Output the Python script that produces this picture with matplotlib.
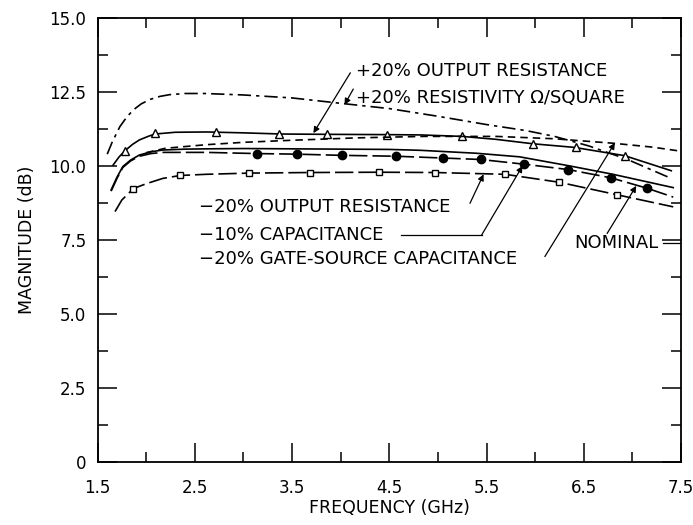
import numpy as np
import matplotlib
matplotlib.use("Agg")
import matplotlib.pyplot as plt

# curves (frequency in GHz, magnitude in dB)
resist_f = [1.60, 1.65, 1.73, 1.80, 1.87, 1.95, 2.04, 2.14, 2.24, 2.40, 2.60, 3.00, 3.50,
            4.05, 4.50, 5.00, 5.50, 5.90, 6.20, 6.55, 6.95, 7.40]
resist_m = [10.40, 10.80, 11.33, 11.65, 11.90, 12.10, 12.25, 12.35, 12.41, 12.45, 12.45, 12.40, 12.30,
            12.10, 11.94, 11.68, 11.40, 11.20, 11.00, 10.68, 10.22, 9.58]

rout_up_f = [1.66, 1.72, 1.78, 1.86, 1.93, 2.02, 2.09, 2.30, 2.62, 3.00, 3.40, 3.86, 4.48,
             4.82, 5.25, 5.60, 5.98, 6.40, 6.92, 7.40]
rout_up_m = [10.03, 10.30, 10.51, 10.73, 10.88, 11.00, 11.08, 11.14, 11.15, 11.12, 11.08, 11.07, 11.06,
             11.05, 11.00, 10.90, 10.75, 10.63, 10.35, 9.84]
tri_f = [1.78, 2.09, 2.72, 3.37, 3.86, 4.48, 5.25, 5.98, 6.42, 6.92]
tri_m = [10.51, 11.10, 11.15, 11.08, 11.07, 11.06, 11.01, 10.75, 10.64, 10.35]

cgs_f = [2.00, 2.20, 2.62, 3.00, 3.50, 4.16, 4.85, 5.60, 6.20, 6.80, 7.20, 7.50]
cgs_m = [10.45, 10.60, 10.72, 10.80, 10.87, 10.95, 11.00, 11.00, 10.92, 10.77, 10.64, 10.50]

nom_f = [1.64, 1.70, 1.76, 1.84, 1.93, 2.05, 2.17, 2.40, 2.62, 3.00, 3.50, 4.00, 4.50,
         4.82, 5.40, 5.84, 6.36, 6.80, 7.42]
nom_m = [9.19, 9.62, 9.98, 10.20, 10.37, 10.48, 10.54, 10.57, 10.58, 10.59, 10.58, 10.57, 10.56,
         10.53, 10.43, 10.31, 10.00, 9.72, 9.27]

cap_f = [1.64, 1.70, 1.76, 1.84, 1.93, 2.05, 2.17, 2.62, 3.14, 3.55, 4.01, 4.57, 5.05,
         5.44, 5.89, 6.34, 6.78, 7.15, 7.42]
cap_m = [9.15, 9.58, 9.95, 10.17, 10.33, 10.42, 10.46, 10.46, 10.42, 10.40, 10.36, 10.33, 10.27,
         10.22, 10.06, 9.88, 9.60, 9.25, 8.95]
dot_f = [3.14, 3.55, 4.01, 4.57, 5.05, 5.44, 5.89, 6.34, 6.78, 7.15]
dot_m = [10.42, 10.40, 10.36, 10.33, 10.27, 10.22, 10.06, 9.88, 9.60, 9.25]

rout_dn_f = [1.68, 1.75, 1.87, 2.00, 2.17, 2.35, 2.62, 3.06, 3.68, 4.39, 4.97, 5.69, 6.25, 6.84, 7.42]
rout_dn_m = [8.46, 8.85, 9.24, 9.40, 9.58, 9.68, 9.72, 9.76, 9.78, 9.79, 9.78, 9.72, 9.45, 9.03, 8.62]
sq_f = [1.87, 2.35, 3.06, 3.68, 4.39, 4.97, 5.69, 6.25, 6.84]
sq_m = [9.24, 9.68, 9.76, 9.78, 9.79, 9.78, 9.72, 9.45, 9.03]

xticks = [1.5, 2.5, 3.5, 4.5, 5.5, 6.5, 7.5]
xminor = [2.0, 3.0, 4.0, 5.0, 6.0, 7.0]
yticks = [0, 2.5, 5.0, 7.5, 10.0, 12.5, 15.0]
ylabels = ["0", "2.5", "5.0", "7.5", "10.0", "12.5", "15.0"]
yminor = [1.25, 3.75, 6.25, 8.75, 11.25, 13.75]

plt.rcParams['font.family'] = ['DejaVu Sans']

fig = plt.figure(figsize=(6.93, 5.25), dpi=100)
ax = fig.add_axes([0.1407, 0.12, 0.842, 0.8457])

lw = 1.2
ax.plot(resist_f, resist_m, color='black', lw=lw, dashes=(8, 3, 2, 3))
ax.plot(rout_up_f, rout_up_m, color='black', lw=lw)
ax.plot(tri_f, tri_m, ls='none', marker='^', ms=6, mfc='white', mec='black', mew=1)
ax.plot(cgs_f, cgs_m, color='black', lw=lw, dashes=(4.5, 3))
ax.plot(nom_f, nom_m, color='black', lw=lw)
ax.plot(cap_f, cap_m, color='black', lw=lw, dashes=(11, 3))
ax.plot(dot_f, dot_m, ls='none', marker='o', ms=6, mfc='black', mec='black')
ax.plot(rout_dn_f, rout_dn_m, color='black', lw=lw, dashes=(11, 3))
ax.plot(sq_f, sq_m, ls='none', marker='s', ms=5, mfc='white', mec='black', mew=1)

# labels and pointer arrows
fs = 13
arrow = dict(arrowstyle='-|>', color='black', lw=0.9, mutation_scale=9, shrinkA=0, shrinkB=0)
ax.text(4.16, 13.2, "+20% OUTPUT RESISTANCE", fontsize=fs, va='center', ha='left')
ax.annotate("", xy=(3.72, 11.11), xytext=(4.10, 13.15), arrowprops=arrow)
ax.text(4.16, 12.3, "+20% RESISTIVITY Ω/SQUARE", fontsize=fs, va='center', ha='left')
ax.annotate("", xy=(4.04, 12.07), xytext=(4.13, 12.6), arrowprops=arrow)

ax.text(2.54, 8.6, "−20% OUTPUT RESISTANCE", fontsize=fs, va='center', ha='left')
ax.annotate("", xy=(5.47, 9.72), xytext=(5.33, 8.74), arrowprops=arrow)
ax.text(2.54, 7.67, "−10% CAPACITANCE", fontsize=fs, va='center', ha='left')
ax.plot([4.62, 5.45], [7.67, 7.67], color='black', lw=0.9)
ax.annotate("", xy=(5.87, 10.0), xytext=(5.45, 7.67), arrowprops=arrow)
ax.text(2.54, 6.85, "−20% GATE-SOURCE CAPACITANCE", fontsize=fs, va='center', ha='left')
ax.annotate("", xy=(6.82, 10.78), xytext=(6.10, 6.94), arrowprops=arrow)
ax.text(6.40, 7.4, "NOMINAL", fontsize=fs, va='center', ha='left')
ax.plot([7.31, 7.5], [7.4, 7.4], color='black', lw=0.9)
ax.annotate("", xy=(7.04, 9.33), xytext=(6.74, 7.72), arrowprops=arrow)

ax.set_xlim(1.5, 7.5)
ax.set_ylim(0, 15)
ax.set_xticks(xticks)
ax.set_xticklabels([str(x) for x in xticks])
ax.set_xticks(xminor, minor=True)
ax.set_yticks(yticks)
ax.set_yticklabels(ylabels)
ax.set_yticks(yminor, minor=True)
ax.tick_params(which='both', direction='in', top=True, right=True, labelsize=12, width=1.1)
ax.tick_params(which='major', length=14)
ax.tick_params(axis='x', which='major', pad=12)
ax.tick_params(axis='y', which='major', pad=8)
ax.tick_params(which='minor', length=7.5)
for s in ax.spines.values():
    s.set_linewidth(1.3)

ax.set_xlabel("FREQUENCY (GHz)", fontsize=12.5, labelpad=2)
ax.set_ylabel("MAGNITUDE (dB)", fontsize=12.5, labelpad=10)

fig.savefig("out.png", dpi=100)
